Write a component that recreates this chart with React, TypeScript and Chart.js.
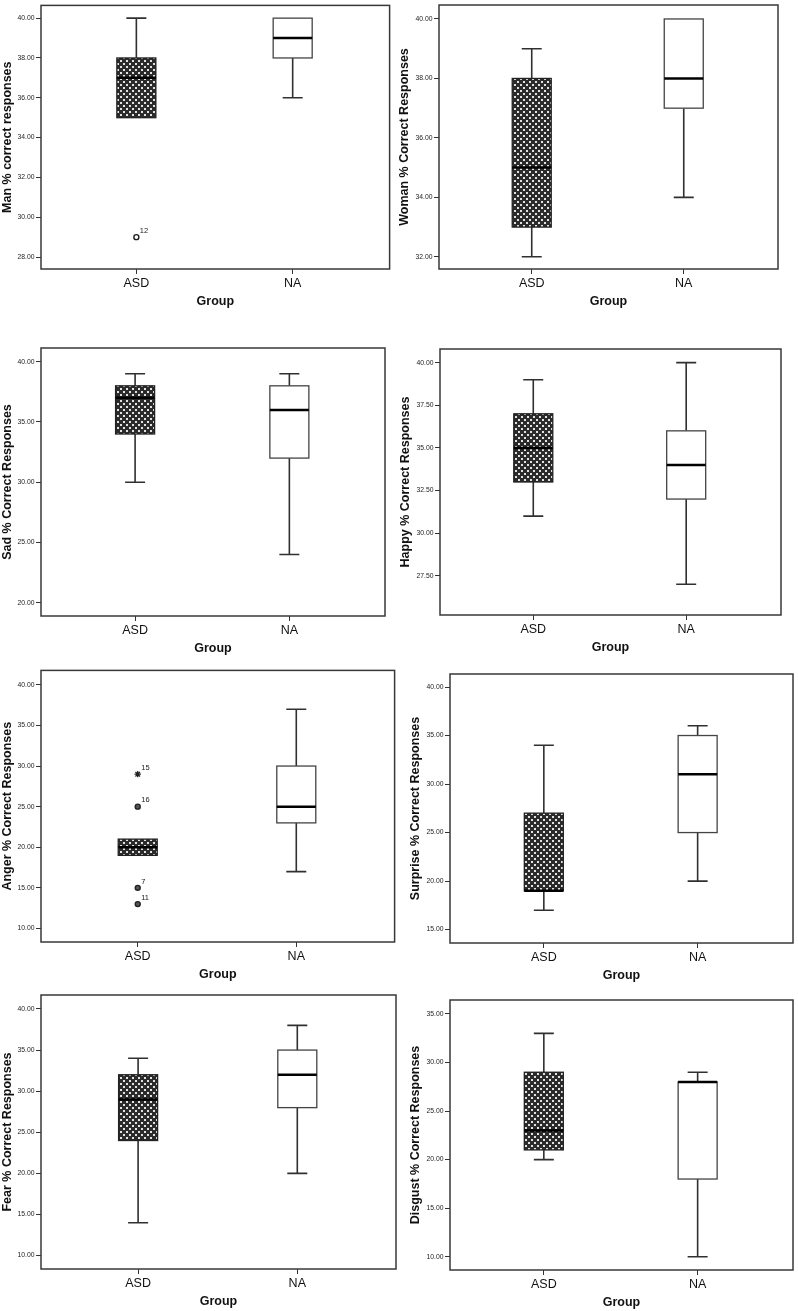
import React, { useEffect, useRef } from "react";
import { Chart, registerables } from "chart.js";

Chart.register(...registerables);

// ---------- data ----------
const categories = ["ASD", "NA"];
const xTitle = "Group";
const yTitles = [
  "Man % correct responses",
  "Woman % Correct Responses",
  "Sad % Correct Responses",
  "Happy % Correct Responses",
  "Anger % Correct Responses",
  "Surprise % Correct Responses",
  "Fear % Correct Responses",
  "Disgust % Correct Responses",
];
const yTickValues = [
  [28, 30, 32, 34, 36, 38, 40],
  [32, 34, 36, 38, 40],
  [20, 25, 30, 35, 40],
  [27.5, 30, 32.5, 35, 37.5, 40],
  [10, 15, 20, 25, 30, 35, 40],
  [15, 20, 25, 30, 35, 40],
  [10, 15, 20, 25, 30, 35, 40],
  [10, 15, 20, 25, 30, 35],
];
const yMin = [27.4, 31.59, 18.89, 25.2, 8.33, 13.62, 8.37, 8.63];
const yMax = [40.64, 40.47, 41.14, 40.8, 41.78, 41.34, 41.7, 36.44];

// ASD group box statistics per panel
const asdMin = [35, 32, 30, 31, 19, 17, 14, 20];
const asdQ1 = [35, 33, 34, 33, 19, 19, 24, 21];
const asdMedian = [37, 35, 37, 35, 20, 19, 29, 23];
const asdQ3 = [38, 38, 38, 37, 21, 27, 32, 29];
const asdMax = [40, 39, 39, 39, 21, 34, 34, 33];

// NA group box statistics per panel
const naMin = [36, 34, 24, 27, 17, 20, 20, 10];
const naQ1 = [38, 37, 32, 32, 23, 25, 28, 18];
const naMedian = [39, 38, 36, 34, 25, 31, 32, 28];
const naQ3 = [40, 40, 38, 36, 30, 35, 35, 28];
const naMax = [40, 40, 39, 40, 37, 36, 38, 29];

// outliers
const outlierPanel = [0, 4, 4, 4, 4];
const outlierGroup = [0, 0, 0, 0, 0];
const outlierValue = [29, 29, 25, 15, 13];
const outlierLabel = ["12", "15", "16", "7", "11"];
const outlierShape = ["circle", "star", "circle", "circle", "circle"];

// ---------- layout / style (pixels) ----------
const frameL = [41, 439, 41, 440, 41, 450, 41, 450];
const frameT = [2, 5, 348, 349, 667, 674, 995, 1000];
const frameR = [391, 778, 385, 781, 396, 793, 396, 793];
const frameB = [269, 269, 616, 615, 942, 943, 1269, 1270];
const canvasL = [0, 397, 0, 398, 0, 408, 0, 408];
const outlierFill = ["#ffffff", "#ffffff", "#555555", "#555555", "#555555"];
const PAD_T = 2;
const PAD_R = 4;
const X_AXIS_H = 45;
const X_MIN = 0.39;
const X_MAX = 2.62;
const BOX_W = 39;
const CAP_W = 20;
const FONT = "'Liberation Sans', Arial, Helvetica, sans-serif";

function makePattern(): CanvasPattern | string {
  const c = document.createElement("canvas");
  c.width = 6;
  c.height = 6;
  const g = c.getContext("2d");
  if (!g) return "#555";
  g.fillStyle = "#2b2b2b";
  g.fillRect(0, 0, 6, 6);
  g.fillStyle = "#e2e2e2";
  g.fillRect(0, 0, 2, 2);
  g.fillRect(3, 3, 2, 2);
  return g.createPattern(c, "repeat") || "#555";
}

function makeBoxPlugin(p: number) {
  return {
    id: "spssBox" + p,
    beforeDatasetsDraw(chart: any) {
      const { ctx, scales } = chart;
      const x = scales.x;
      const y = scales.y;
      const stats = [
        [asdMin[p], asdQ1[p], asdMedian[p], asdQ3[p], asdMax[p]],
        [naMin[p], naQ1[p], naMedian[p], naQ3[p], naMax[p]],
      ];
      const pattern = makePattern();
      ctx.save();
      stats.forEach((s, gi) => {
        const cx = x.getPixelForValue(gi + 1);
        const [mn, q1, md, q3, mx] = s;
        const yMn = y.getPixelForValue(mn);
        const yQ1 = y.getPixelForValue(q1);
        const yMd = y.getPixelForValue(md);
        const yQ3 = y.getPixelForValue(q3);
        const yMx = y.getPixelForValue(mx);
        ctx.strokeStyle = "#303030";
        ctx.lineWidth = 1.6;
        ctx.beginPath();
        if (mn < q1) {
          ctx.moveTo(cx, yQ1);
          ctx.lineTo(cx, yMn);
          ctx.moveTo(cx - CAP_W / 2, yMn);
          ctx.lineTo(cx + CAP_W / 2, yMn);
        }
        if (mx > q3) {
          ctx.moveTo(cx, yQ3);
          ctx.lineTo(cx, yMx);
          ctx.moveTo(cx - CAP_W / 2, yMx);
          ctx.lineTo(cx + CAP_W / 2, yMx);
        }
        ctx.stroke();
        // box
        ctx.fillStyle = gi === 0 ? pattern : "#ffffff";
        ctx.fillRect(cx - BOX_W / 2, yQ3, BOX_W, yQ1 - yQ3);
        ctx.strokeStyle = gi === 0 ? "#222" : "#444";
        ctx.lineWidth = 1.3;
        ctx.strokeRect(cx - BOX_W / 2, yQ3, BOX_W, yQ1 - yQ3);
        // median
        ctx.strokeStyle = "#000";
        ctx.lineWidth = 2.5;
        ctx.beginPath();
        ctx.moveTo(cx - BOX_W / 2, yMd);
        ctx.lineTo(cx + BOX_W / 2, yMd);
        ctx.stroke();
      });
      ctx.restore();
    },
    afterDatasetsDraw(chart: any) {
      const { ctx, scales } = chart;
      ctx.save();
      ctx.fillStyle = "#222";
      ctx.font = "7.5px " + FONT;
      ctx.textAlign = "left";
      ctx.textBaseline = "bottom";
      outlierPanel.forEach((op, i) => {
        if (op !== p) return;
        const px = scales.x.getPixelForValue(outlierGroup[i] + 1);
        const py = scales.y.getPixelForValue(outlierValue[i]);
        ctx.fillText(outlierLabel[i], px + 3.5, py - 2.5);
      });
      ctx.restore();
    },
    afterDraw(chart: any) {
      const { ctx, chartArea } = chart;
      ctx.save();
      ctx.strokeStyle = "#383838";
      ctx.lineWidth = 1.5;
      ctx.strokeRect(chartArea.left, chartArea.top, chartArea.right - chartArea.left, chartArea.bottom - chartArea.top);
      ctx.restore();
    },
  };
}

function Panel({ p }: { p: number }) {
  const ref = useRef<HTMLCanvasElement>(null);
  const left = canvasL[p];
  const top = frameT[p] - PAD_T;
  const width = frameR[p] + PAD_R - left;
  const height = frameB[p] + X_AXIS_H - top;

  useEffect(() => {
    const idx = outlierPanel.map((op, i) => (op === p ? i : -1)).filter((i) => i >= 0);
    const chart = new Chart(ref.current as HTMLCanvasElement, {
      type: "scatter",
      data: {
        datasets: [
          {
            data: idx.map((i) => ({ x: outlierGroup[i] + 1, y: outlierValue[i] })),
            pointStyle: idx.map((i) => outlierShape[i]) as any,
            pointRadius: idx.map((i) => (outlierShape[i] === "star" ? 3.2 : 2.5)),
            pointBorderColor: "#222",
            pointBackgroundColor: idx.map((i) => outlierFill[i]),
            pointBorderWidth: idx.map((i) => (outlierShape[i] === "star" ? 1.3 : 1.4)),
          } as any,
        ],
      },
      options: {
        responsive: false,
        animation: false,
        events: [],
        layout: { padding: { top: PAD_T, right: PAD_R, left: 0, bottom: 0 } },
        plugins: { legend: { display: false }, tooltip: { enabled: false } },
        scales: {
          x: {
            type: "linear",
            min: X_MIN,
            max: X_MAX,
            afterBuildTicks: (s: any) => {
              s.ticks = categories.map((_, i) => ({ value: i + 1 }));
            },
            afterFit: (s: any) => {
              s.height = X_AXIS_H;
              s.paddingLeft = 0;
              s.paddingRight = 0;
            },
            ticks: {
              callback: (v: any) => categories[Number(v) - 1] ?? "",
              font: { family: FONT, size: 12.5 },
              color: "#111",
              padding: 2,
              autoSkip: false,
              maxRotation: 0,
            },
            grid: { display: true, drawOnChartArea: false, drawTicks: true, tickLength: 5, color: "#333", lineWidth: 1 },
            border: { display: false },
            title: {
              display: true,
              text: xTitle,
              font: { family: FONT, size: 12.5, weight: "bold" },
              color: "#111",
              padding: { top: 0, bottom: 4.5 },
            },
          } as any,
          y: {
            type: "linear",
            min: yMin[p],
            max: yMax[p],
            afterBuildTicks: (s: any) => {
              s.ticks = yTickValues[p].map((v) => ({ value: v }));
            },
            afterFit: (s: any) => {
              s.width = frameL[p] - canvasL[p];
              s.paddingTop = 0;
              s.paddingBottom = 0;
            },
            ticks: {
              callback: (v: any) => Number(v).toFixed(2),
              font: { family: FONT, size: 6.8 },
              color: "#222",
              padding: 1.5,
            },
            grid: { display: true, drawOnChartArea: false, drawTicks: true, tickLength: 5, color: "#333", lineWidth: 1 },
            border: { display: false },
            title: {
              display: true,
              text: yTitles[p],
              font: { family: FONT, size: 12.5, weight: "bold" },
              color: "#111",
              padding: { top: 0, bottom: 0 },
            },
          } as any,
        },
      },
      plugins: [makeBoxPlugin(p) as any],
    });
    return () => chart.destroy();
  }, [p]);

  return (
    <canvas
      ref={ref}
      width={width}
      height={height}
      style={{ position: "absolute", left, top, width, height }}
    />
  );
}

export default function App() {
  useEffect(() => {
    document.body.style.margin = "0";
  }, []);
  return (
    <div style={{ position: "relative", width: 798, height: 1311, overflow: "hidden", background: "#fff" }}>
      {yTitles.map((_, p) => (
        <Panel key={p} p={p} />
      ))}
    </div>
  );
}
